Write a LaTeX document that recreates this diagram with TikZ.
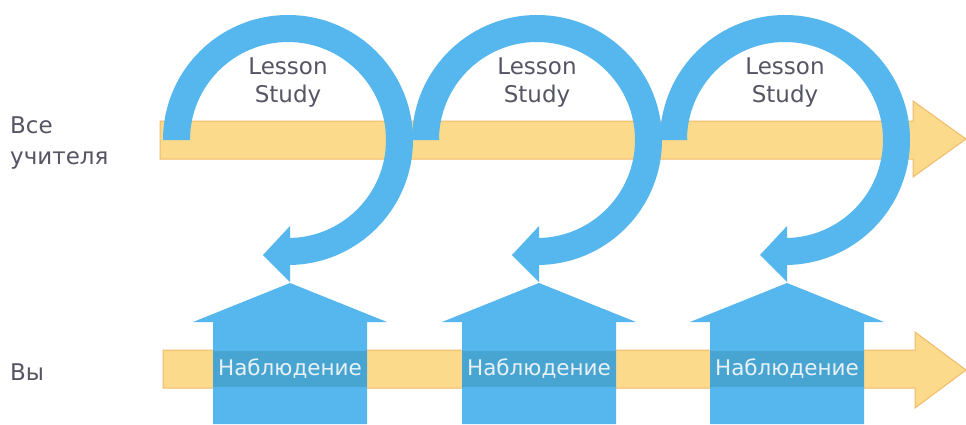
\documentclass[tikz,border=0pt]{standalone}
\usepackage{fontspec}
\setmainfont{DejaVu Sans}
\definecolor{ringblue}{RGB}{85,183,238}
\definecolor{bandyellow}{RGB}{251,218,140}
\definecolor{bandedge}{RGB}{242,186,105}
\definecolor{overlapblue}{RGB}{72,164,208}
\definecolor{labelgray}{RGB}{85,85,100}
\definecolor{obswhite}{RGB}{232,242,250}
\tikzset{
  yband/.style={fill=bandyellow, draw=bandedge, line width=1pt, line join=miter},
  ring/.style={fill=ringblue},
  house/.style={fill=ringblue},
  lstext/.style={text=labelgray, font=\fontsize{23}{28}\selectfont, align=center, inner sep=0pt},
  sidetext/.style={text=labelgray, font=\fontsize{23}{31}\selectfont, align=left, inner sep=0pt, anchor=west},
  obstext/.style={text=obswhite, font=\fontsize{21.5}{24}\selectfont, inner sep=0pt},
}
\begin{document}
\begin{tikzpicture}[x=1pt,y=-1pt]
\useasboundingbox (0,0) rectangle (966,424);
\fill[white] (0,0) rectangle (966,424);

% top band arrow
\path[yband] (160,121) -- (913,121) -- (913,101) -- (966,139) -- (913,177) -- (913,159) -- (160,159) -- cycle;
% bottom band arrow
\path[yband] (163,350) -- (915,350) -- (915,332) -- (966,370) -- (915,408) -- (915,388) -- (163,388) -- cycle;

% circular arrows
\foreach \cx/\i in {288/1,537/2,785/3}{
  \fill[ring] (\cx-125,140) arc[start angle=180,end angle=450,radius=125]
     -- (\cx+2,265) -- (\cx+2,282) -- (\cx-25,255) -- (\cx+2,226) -- (\cx+2,238)
     -- (\cx,238) arc[start angle=450,end angle=180,radius=98] -- cycle;
  \node[lstext] (ls\i) at (\cx,83) {Lesson\\Study};
}

% houses (up arrows)
\foreach \hx/\i in {290/1,539/2,787/3}{
  \fill[house] (\hx-77,424) -- (\hx-77,322) -- (\hx-97,322) -- (\hx,283)
     -- (\hx+97,322) -- (\hx+77,322) -- (\hx+77,424) -- cycle;
  \fill[overlapblue] (\hx-77,351) rectangle (\hx+77,387);
  \node[obstext] (obs\i) at (\hx,369) {Наблюдение};
}

% side labels
\node[sidetext] (all) at (10,143) {Все\\учителя};
\node[sidetext] (you) at (10,372) {Вы};
\end{tikzpicture}
\end{document}
